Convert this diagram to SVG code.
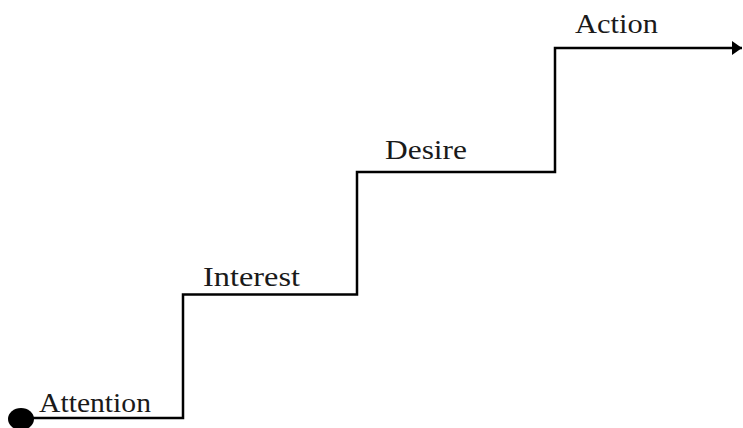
<svg xmlns="http://www.w3.org/2000/svg" width="743" height="428" viewBox="0 0 743 428">
<style>
.lbl{font-family:"Liberation Serif","Times New Roman",serif;font-size:27px;fill:#1a1a1a}
.step{fill:none;stroke:#000;stroke-width:2.5}
</style>
<defs>
<marker id="arr" viewBox="0 0 10 14" refX="10" refY="7" markerWidth="10" markerHeight="14" markerUnits="userSpaceOnUse" orient="auto">
<path d="M0,0 L10,7 L0,14 Z" fill="#000"/>
</marker>
</defs>
<rect width="743" height="428" fill="#fff"/>
<g id="connectors">
<path class="step" d="M21,418 H183 V294.5 H357 V172 H555 V48 H742" marker-end="url(#arr)"/>
</g>
<g id="start">
<ellipse cx="21" cy="419" rx="13" ry="11" fill="#000"/>
</g>
<g id="attention"><text class="lbl" x="39" y="412" textLength="112" lengthAdjust="spacingAndGlyphs">Attention</text></g>
<g id="interest"><text class="lbl" x="203" y="286" textLength="97" lengthAdjust="spacingAndGlyphs">Interest</text></g>
<g id="desire"><text class="lbl" x="385" y="159" textLength="82" lengthAdjust="spacingAndGlyphs">Desire</text></g>
<g id="action"><text class="lbl" x="575" y="33" textLength="83" lengthAdjust="spacingAndGlyphs">Action</text></g>
</svg>
